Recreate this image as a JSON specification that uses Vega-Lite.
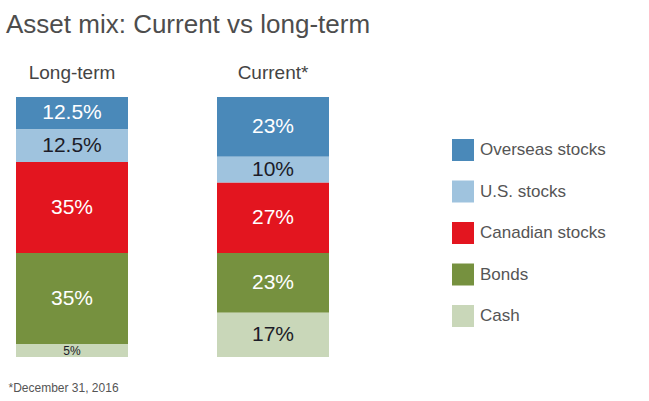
{
  "$schema": "https://vega.github.io/schema/vega-lite/v6.json",
  "autosize": {"type": "none"},
  "width": 313,
  "height": 260,
  "padding": {"left": 16, "top": 97, "right": 320, "bottom": 44},
  "background": "white",
  "config": {"font": "Liberation Sans", "view": {"stroke": null}},
  "title": {
    "text": "Asset mix: Current vs long-term",
    "anchor": "start",
    "dx": -2,
    "offset": 25,
    "fontSize": 26,
    "fontWeight": "normal",
    "color": "#4d4d4d"
  },
  "data": {
    "values": [
      {"period": "Long-term", "category": "Overseas stocks", "rank": 1, "value": 12.5, "label": "12.5%"},
      {"period": "Long-term", "category": "U.S. stocks", "rank": 2, "value": 12.5, "label": "12.5%"},
      {"period": "Long-term", "category": "Canadian stocks", "rank": 3, "value": 35, "label": "35%"},
      {"period": "Long-term", "category": "Bonds", "rank": 4, "value": 35, "label": "35%"},
      {"period": "Long-term", "category": "Cash", "rank": 5, "value": 5, "label": "5%"},
      {"period": "Current*", "category": "Overseas stocks", "rank": 1, "value": 23, "label": "23%"},
      {"period": "Current*", "category": "U.S. stocks", "rank": 2, "value": 10, "label": "10%"},
      {"period": "Current*", "category": "Canadian stocks", "rank": 3, "value": 27, "label": "27%"},
      {"period": "Current*", "category": "Bonds", "rank": 4, "value": 23, "label": "23%"},
      {"period": "Current*", "category": "Cash", "rank": 5, "value": 17, "label": "17%"}
    ]
  },
  "layer": [
    {
      "mark": {"type": "bar"},
      "encoding": {
        "x": {
          "field": "period", "type": "nominal",
          "sort": ["Long-term", "Current*"],
          "scale": {"paddingInner": 0.4428, "paddingOuter": 0},
          "axis": {
            "orient": "top", "title": null, "domain": false, "ticks": false,
            "labelAngle": 0, "labelFontSize": 19, "labelColor": "#444444",
            "labelPadding": 15
          }
        },
        "y": {
          "field": "value", "type": "quantitative", "stack": "zero",
          "scale": {"domain": [0, 100], "reverse": true, "nice": false},
          "axis": null
        },
        "order": {"field": "rank", "type": "quantitative", "sort": "ascending"},
        "color": {
          "field": "category", "type": "nominal",
          "scale": {
            "domain": ["Overseas stocks", "U.S. stocks", "Canadian stocks", "Bonds", "Cash"],
            "range": ["#4a89b9", "#9fc3de", "#e3151f", "#76913f", "#c9d7b9"]
          },
          "legend": {
            "orient": "none", "legendX": 436, "legendY": 42, "title": null,
            "padding": 0, "symbolType": "square", "symbolSize": 484,
            "symbolStrokeWidth": 0, "symbolOpacity": 1, "labelFontSize": 17,
            "labelColor": "#555555", "labelOffset": 6, "rowPadding": 19.5,
            "labelLimit": 300
          }
        }
      }
    },
    {
      "mark": {"type": "text", "align": "center", "baseline": "middle"},
      "encoding": {
        "x": {
          "field": "period", "type": "nominal",
          "sort": ["Long-term", "Current*"],
          "axis": {
            "orient": "bottom", "labels": false, "domain": false, "ticks": false,
            "title": "*December 31, 2016", "titleAnchor": "start", "titleAlign": "left",
            "titleX": -8, "titleY": 25, "titleFontSize": 12, "titleFontWeight": "normal",
            "titleColor": "#555555"
          }
        },
        "y": {
          "field": "value", "type": "quantitative", "stack": "zero", "bandPosition": 0.5
        },
        "order": {"field": "rank", "type": "quantitative", "sort": "ascending"},
        "detail": {"field": "category", "type": "nominal"},
        "text": {"field": "label", "type": "nominal"},
        "size": {"condition": {"test": "datum.value < 6", "value": 12}, "value": 21},
        "color": {
          "condition": {"test": "datum.category === 'U.S. stocks' || datum.category === 'Cash'", "value": "#1c1c28"},
          "value": "#ffffff"
        }
      }
    }
  ],
  "resolve": {"axis": {"x": "independent"}}
}
